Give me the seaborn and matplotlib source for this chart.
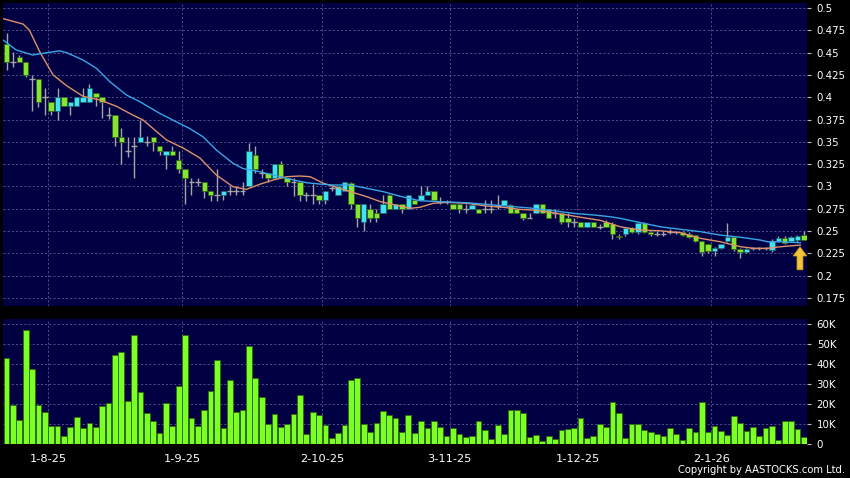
import numpy as np
import pandas as pd
import matplotlib
matplotlib.use("Agg")
import matplotlib.pyplot as plt
import seaborn as sns
from matplotlib.patches import FancyArrow

# daily candles, 23-7-25 .. 22-1-26 (126 sessions)
open_ = [.460, .440, .445, .440, .420, .420, .400, .395, .385, .400,
         .390, .390, .395, .395, .405, .400, .380, .380, .355, .340,
         .345, .350, .350, .355, .345, .335, .340, .330, .320, .305,
         .305, .305, .295, .290, .290, .295, .295, .295, .300, .335,
         .315, .315, .310, .325, .310, .305, .305, .290, .290, .290,
         .285, .298, .290, .295, .304, .280, .260, .275, .270, .270,
         .290, .275, .280, .275, .285, .285, .290, .295, .283, .283,
         .280, .280, .275, .275, .275, .275, .275, .278, .279, .279,
         .275, .270, .265, .270, .280, .275, .270, .270, .265, .260,
         .260, .255, .260, .255, .260, .258, .245, .247, .253, .249,
         .259, .249, .247, .247, .249, .249, .249, .247, .246, .239,
         .235, .228, .231, .239, .243, .230, .227, .231, .231, .231,
         .229, .239, .242, .239, .240, .246]
high = [.472, .451, .447, .440, .425, .420, .410, .395, .410, .400,
        .395, .400, .410, .415, .405, .400, .389, .380, .365, .355,
        .355, .375, .357, .355, .345, .340, .345, .340, .320, .310,
        .310, .305, .295, .320, .295, .300, .300, .305, .349, .345,
        .320, .315, .325, .329, .310, .310, .305, .294, .303, .290,
        .295, .302, .300, .305, .305, .280, .280, .280, .275, .290,
        .292, .280, .280, .290, .285, .300, .300, .295, .288, .285,
        .280, .280, .280, .280, .275, .285, .285, .290, .285, .280,
        .275, .270, .270, .280, .280, .275, .275, .270, .270, .265,
        .260, .260, .260, .258, .262, .260, .247, .253, .255, .260,
        .260, .250, .250, .250, .252, .250, .250, .249, .246, .239,
        .236, .232, .236, .259, .243, .231, .231, .232, .232, .232,
        .241, .244, .245, .244, .246, .250]
low = [.430, .434, .440, .423, .385, .389, .380, .380, .375, .390,
       .380, .390, .395, .395, .390, .377, .376, .345, .325, .333,
       .310, .350, .345, .340, .335, .320, .335, .315, .280, .290,
       .300, .287, .284, .284, .285, .290, .290, .290, .300, .315,
       .310, .305, .310, .310, .300, .289, .284, .284, .280, .280,
       .280, .295, .290, .295, .275, .255, .250, .260, .260, .270,
       .275, .275, .270, .275, .280, .285, .290, .285, .280, .280,
       .275, .270, .270, .275, .270, .270, .270, .275, .279, .270,
       .270, .262, .265, .270, .270, .265, .265, .258, .255, .255,
       .254, .255, .254, .252, .255, .241, .241, .245, .248, .247,
       .248, .245, .245, .245, .247, .247, .245, .242, .238, .222,
       .225, .222, .230, .238, .228, .220, .225, .229, .229, .229,
       .227, .238, .236, .238, .238, .240]
close = [.440, .440, .440, .425, .420, .395, .400, .385, .400, .390,
         .395, .400, .400, .410, .400, .395, .380, .355, .350, .340,
         .345, .355, .350, .350, .340, .340, .335, .320, .310, .305,
         .305, .295, .290, .290, .295, .295, .295, .295, .340, .320,
         .315, .310, .325, .310, .305, .305, .290, .290, .290, .285,
         .295, .298, .300, .305, .280, .265, .280, .265, .265, .280,
         .275, .280, .275, .290, .280, .290, .295, .285, .283, .283,
         .275, .275, .275, .279, .270, .275, .275, .278, .285, .270,
         .270, .265, .265, .280, .270, .265, .270, .260, .260, .260,
         .255, .260, .255, .255, .255, .247, .243, .253, .249, .259,
         .249, .247, .247, .247, .249, .249, .246, .243, .239, .227,
         .228, .231, .235, .243, .230, .227, .230, .231, .231, .231,
         .239, .242, .237, .243, .244, .240]
# volume in thousands of shares
volume_k = [43, 19.7, 11.8, 57, 37.5, 19.4, 15.8, 9, 8.8, 4.2,
            8.4, 13.5, 8, 10.6, 8.4, 18.9, 20.7, 44.4, 45.8, 21.4,
            54.4, 25.8, 15.5, 11.4, 5.4, 20.7, 8.8, 29, 54.4, 13,
            8.8, 17.2, 26.4, 41.8, 8, 32, 15.8, 16.8, 49, 32.8,
            23.7, 9.8, 14.8, 8.4, 10, 15.2, 24.4, 5, 16.2, 14.6,
            9.6, 2.9, 5.4, 9.3, 32, 33.2, 10, 6.2, 10.6, 16.5,
            14.5, 13.1, 5.9, 14.5, 5.7, 11.4, 8, 11.4, 8.6, 4,
            8.2, 4.9, 3.4, 4, 11.4, 7.2, 2.7, 9.6, 5.2, 17.2,
            16.8, 15.7, 3.7, 4.5, 1.3, 4.2, 2.5, 7.2, 7.7, 8,
            13.1, 3.2, 4.2, 10, 8.4, 20.9, 15.7, 3.2, 10, 9.8,
            7.2, 6.2, 5.2, 4, 8, 5.2, 2.2, 7.9, 5.9, 20.9,
            6.2, 8.8, 6.7, 4.7, 13.8, 10.3, 6.6, 8.6, 4, 8.2,
            8.9, 2.2, 11.3, 11.6, 7.6, 3.7]

# moving averages (bar position, price)
ma_fast_x = [-0.5, 2.6, 3.6, 5.2, 7.3, 9.4, 12, 14.6, 17.2, 19.8, 21.4, 25.1,
             27.7, 30.3, 32.9, 35.5, 37.6, 39.7, 41.8, 43.9, 46, 47.6, 49.7,
             52.3, 54.4, 56.5, 58.6, 61.7, 63.3, 64.8, 66.9, 69, 72.2, 75.3,
             77.9, 80.5, 82.6, 84.7, 87.9, 91, 93.1, 96.2, 99.4, 102.5, 105.7,
             108.8, 111.9, 115.1, 117.2, 119.3, 121.3, 124.5]
ma_fast = [0.488, 0.482, 0.475, 0.451, 0.425, 0.413, 0.401, 0.397, 0.390,
           0.380, 0.3745, 0.352, 0.343, 0.332, 0.3128, 0.2997, 0.2967,
           0.3024, 0.3072, 0.3109, 0.3117, 0.3109, 0.3035, 0.2978, 0.293,
           0.2885, 0.283, 0.278, 0.2755, 0.2766, 0.2811, 0.2822, 0.2811,
           0.278, 0.2766, 0.2743, 0.2735, 0.2716, 0.268, 0.2643, 0.262,
           0.2548, 0.2511, 0.2503, 0.2481, 0.2418, 0.238, 0.2324, 0.2306,
           0.2306, 0.2324, 0.2343]
ma_slow_x = [-0.5, 1.5, 4.1, 5.7, 8.3, 9.4, 12, 14.1, 16.2, 18.8, 20.9, 24,
             26.6, 28.7, 30.8, 32.9, 35.5, 37.1, 39.7, 41.8, 45, 47, 49.1,
             51.2, 53.8, 56.5, 59.1, 61.7, 64.8, 68, 72.2, 75.3, 78.4, 82.6,
             85.8, 88.9, 92.1, 94.7, 96.2, 99.4, 102.5, 105.7, 108.8, 111.9,
             115.1, 118.2, 119.3, 121.3, 124.5]
ma_slow = [0.464, 0.453, 0.4473, 0.4492, 0.452, 0.450, 0.4417, 0.4324,
           0.4174, 0.4025, 0.395, 0.382, 0.3725, 0.365, 0.3557, 0.3408,
           0.326, 0.320, 0.3165, 0.3128, 0.3072, 0.3042, 0.3027, 0.3016,
           0.3016, 0.2979, 0.2941, 0.289, 0.284, 0.2829, 0.2817, 0.2799,
           0.278, 0.2755, 0.2728, 0.2698, 0.268, 0.266, 0.2643, 0.2594,
           0.2548, 0.2519, 0.2493, 0.2455, 0.243, 0.2399, 0.238, 0.238,
           0.2369]

date_pos = [6.5, 27.5, 49.5, 69.5, 89.5, 110.5]
date_labels = ['1-8-25', '1-9-25', '2-10-25', '3-11-25', '1-12-25', '2-1-26']
price_ticks = [0.175, 0.2, 0.225, 0.25, 0.275, 0.3, 0.325, 0.35, 0.375,
               0.4, 0.425, 0.45, 0.475, 0.5]
vol_ticks = [0, 10, 20, 30, 40, 50, 60]

df = pd.DataFrame({'open': open_, 'high': high, 'low': low,
                   'close': close, 'vol': volume_k})
df['i'] = np.arange(len(df))

sns.set_style('dark')
plt.rcParams['font.family'] = ['DejaVu Sans']

NAVY = '#000042'
GRID = '#5b5b95'
UP = '#3fe3f2'
DOWN = '#84e632'
WICK = '#a5a5a5'

fig = plt.figure(figsize=(8.5, 4.78), dpi=100, facecolor='black')
axp = fig.add_axes([3 / 850, 1 - 306 / 478, 804 / 850, 303 / 478])
axv = fig.add_axes([3 / 850, 1 - 444 / 478, 804 / 850, 125 / 478])

for ax in (axp, axv):
    ax.set_facecolor(NAVY)
    for s in ax.spines.values():
        s.set_visible(False)
    ax.set_xticks(date_pos)
    ax.grid(True, color=GRID, linestyle=(0, (2.5, 2.5)), linewidth=0.6)
    ax.set_axisbelow(True)

# wicks
axp.vlines(df['i'], df['low'], df['high'], color=WICK, linewidth=1, zorder=2)
up = df[df['close'] > df['open']]
dn = df[df['close'] < df['open']]
flat = df[df['close'] == df['open']]
axp.bar(up['i'], up['close'] - up['open'], bottom=up['open'], width=0.85,
        color=UP, edgecolor='#1d5a66', linewidth=0.5, zorder=3)
axp.bar(dn['i'], dn['open'] - dn['close'], bottom=dn['close'], width=0.85,
        color=DOWN, edgecolor='#2f5a12', linewidth=0.5, zorder=3)
axp.hlines(flat['close'], flat['i'] - 0.45, flat['i'] + 0.45, color=WICK,
           linewidth=1, zorder=3)

sns.lineplot(x=ma_fast_x, y=ma_fast, ax=axp, color='#e0906a', linewidth=1,
             zorder=4)
sns.lineplot(x=ma_slow_x, y=ma_slow, ax=axp, color='#3aa6e6', linewidth=1,
             zorder=4)

last = len(df) - 1
axp.add_patch(FancyArrow(last - 0.6, 0.2065, 0, 0.0155, width=0.95,
                         head_width=2.2, head_length=0.0105,
                         length_includes_head=False, color='#f2c43a',
                         ec='#b88a10', linewidth=0.5, zorder=5))

axp.set_xlim(-0.55, 125.5)
axp.set_ylim(0.166, 0.5056)
axp.yaxis.tick_right()
axp.set_yticks(price_ticks)
axp.set_yticklabels([f'{v:g}' for v in price_ticks])
axp.tick_params(axis='y', colors='#bbbbbb', labelcolor='white', length=3,
                width=0.8, pad=4, labelsize=7.4)
axp.tick_params(axis='x', length=0, labelbottom=False)
axp.set_xlabel('')
axp.set_ylabel('')

sns.barplot(data=df, x='i', y='vol', native_scale=True, ax=axv,
            color='#7cff24', edgecolor='#2e6a0c', linewidth=0.6, width=0.9,
            saturation=1, zorder=3)
axv.set_xlim(-0.55, 125.5)
axv.set_ylim(0, 62.5)
axv.yaxis.tick_right()
axv.set_yticks(vol_ticks)
axv.set_yticklabels(['0'] + [f'{v}K' for v in vol_ticks[1:]])
axv.set_xticks(date_pos)
axv.set_xticklabels(date_labels)
axv.tick_params(axis='y', colors='#bbbbbb', labelcolor='white', length=3,
                width=0.8, pad=4, labelsize=7.4)
axv.tick_params(axis='x', colors='#bbbbbb', labelcolor='white', length=3,
                width=0.8, pad=4, labelsize=8.2)
axv.set_xlabel('')
axv.set_ylabel('')

fig.text(0.994, 0.006, 'Copyright by AASTOCKS.com Ltd.', ha='right',
         va='bottom', color='white', fontsize=7.2)

fig.savefig('out.png', dpi=100, facecolor='black')
